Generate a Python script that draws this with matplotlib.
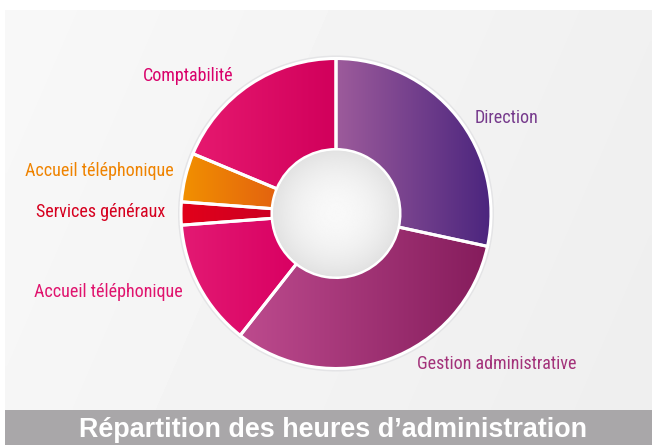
import numpy as np
import matplotlib
matplotlib.use("Agg")
import matplotlib.pyplot as plt
from matplotlib.patches import Rectangle, Circle
from matplotlib.colors import LinearSegmentedColormap

# ---- data ----
categories = ["Direction", "Gestion administrative", "Accueil téléphonique",
              "Services généraux", "Accueil téléphonique", "Comptabilité"]
values = [28.4, 32.2, 13.2, 2.4, 5.1, 18.7]
grad_left = ["#9d5b9b", "#bd4b8e", "#e31a73", "#e2001a", "#f29100", "#e6196f"]
grad_right = ["#4b257e", "#851c5c", "#d90062", "#cc0022", "#e3620f", "#d1005b"]
label_colors = ["#763a8c", "#a3327a", "#e0146e", "#d6001f", "#ef8300", "#d9006a"]
title = "Répartition des heures d\u2019administration"

W, H = 652, 445
FONT = ["Roboto Condensed", "DejaVu Sans"]
TFONT = ["Liberation Sans", "DejaVu Sans"]

fig = plt.figure(figsize=(W / 100, H / 100), dpi=100)
ax = fig.add_axes([0, 0, 1, 1])

# background panel with soft gradient
yy, xx = np.mgrid[0:1:100j, 0:1:160j]
bg = 0.972 - 0.03 * xx - 0.008 * (1 - yy)
ax.imshow(bg, cmap="gray", vmin=0, vmax=1, extent=(5, W, 35, H - 10),
          origin="lower", zorder=0, interpolation="bilinear")

# title bar
ax.add_patch(Rectangle((5, 0), W - 5, 35, facecolor="#a9a7a9", edgecolor="none", zorder=1))
ax.text(333, 8, title, ha="center", va="baseline", color="white",
        fontsize=19.4, fontweight="bold", family=TFONT, zorder=2)

# donut
cx, cy = 336, H - 213.5
R, r_in = 155, 64

ax.add_patch(Circle((cx, cy), R + 3, facecolor="#e4e4e6", edgecolor="none", zorder=2))

wedges, _ = ax.pie(values, startangle=90, counterclock=False, center=(cx, cy),
                   radius=R, wedgeprops=dict(width=R - r_in, facecolor="none",
                                             edgecolor="white", linewidth=2.2),
                   frame=True)

for w, cl, cr in zip(wedges, grad_left, grad_right):
    w.set_zorder(5)
    ext = w.get_path().get_extents()
    cmap = LinearSegmentedColormap.from_list("g", [cl, cr])
    grad = np.linspace(0, 1, 256).reshape(1, -1)
    im = ax.imshow(grad, cmap=cmap, extent=(ext.x0, ext.x1, ext.y0, ext.y1),
                   origin="lower", aspect="auto", zorder=3, interpolation="bilinear")
    im.set_clip_path(w)

# hole with radial gradient
hole = Circle((cx, cy), r_in - 1, facecolor="none", edgecolor="none", zorder=6)
ax.add_patch(hole)
gy, gx = np.mgrid[-1:1:200j, -1:1:200j]
rr = np.sqrt(gx ** 2 + gy ** 2)
hv = 0.975 - 0.09 * np.clip(rr, 0, 1) ** 2
him = ax.imshow(hv, cmap="gray", vmin=0, vmax=1,
                extent=(cx - r_in, cx + r_in, cy - r_in, cy + r_in),
                origin="lower", zorder=6, interpolation="bilinear")
him.set_clip_path(hole)

ax.set_xlim(0, W)
ax.set_ylim(0, H)
ax.set_aspect("equal")
ax.axis("off")

# labels
label_pos = [(506, 118), (497, 364), (108, 292), (101, 212), (99, 171), (188, 76)]
for (lx, ly), txt, col in zip(label_pos, categories, label_colors):
    ax.text(lx, H - ly, txt, ha="center", va="center", color=col, fontsize=13,
            family=FONT, zorder=7)

fig.savefig("out.png", dpi=100, facecolor="white")
